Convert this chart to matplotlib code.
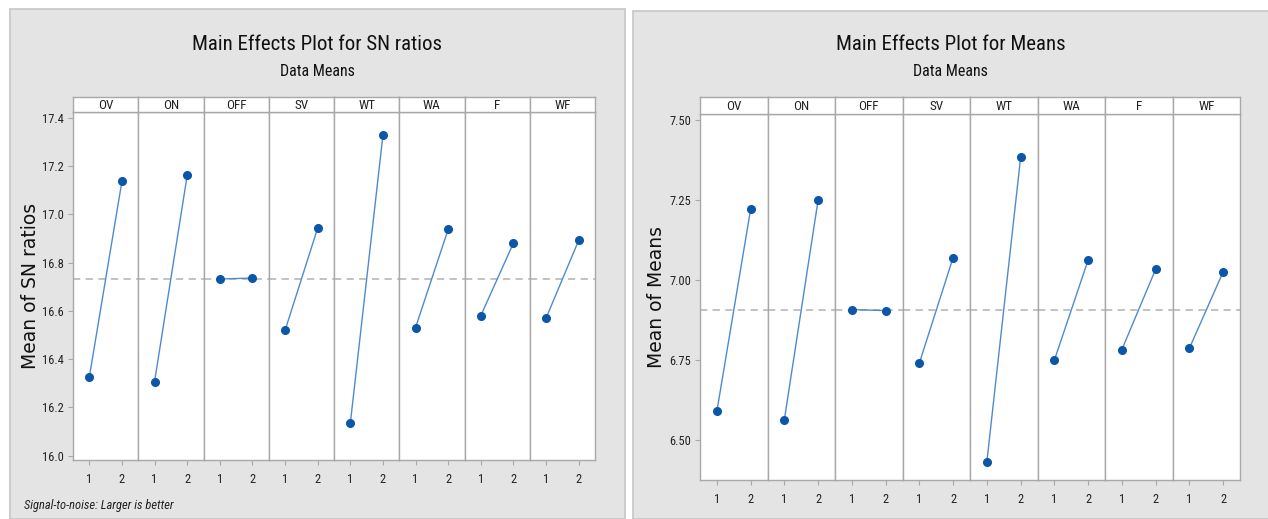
import matplotlib
matplotlib.use("Agg")
import matplotlib.pyplot as plt
from matplotlib.patches import Rectangle

plt.rcParams['font.family'] = ['Roboto Condensed', 'DejaVu Sans']

# data
factors = ["OV", "ON", "OFF", "SV", "WT", "WA", "F", "WF"]
levels = [1, 2]
sn_level1 = [16.325, 16.307, 16.732, 16.519, 16.134, 16.531, 16.580, 16.570]
sn_level2 = [17.137, 17.161, 16.736, 16.943, 17.328, 16.938, 16.881, 16.892]
sn_grand = 16.731
sn_ticks = [16.0, 16.2, 16.4, 16.6, 16.8, 17.0, 17.2, 17.4]
sn_ticklabels = ["16.0", "16.2", "16.4", "16.6", "16.8", "17.0", "17.2", "17.4"]

mean_level1 = [6.589, 6.563, 6.907, 6.740, 6.431, 6.749, 6.782, 6.786]
mean_level2 = [7.221, 7.250, 6.904, 7.070, 7.383, 7.062, 7.033, 7.025]
mean_grand = 6.907
mean_ticks = [6.50, 6.75, 7.00, 7.25, 7.50]
mean_ticklabels = ["6.50", "6.75", "7.00", "7.25", "7.50"]

W, H = 1268, 519
fig = plt.figure(figsize=(W / 100, H / 100), dpi=100)
fig.patch.set_facecolor("white")

line_col = "#4f8ad0"
dot_col = "#0a56a8"
frame_col = "#a8a8a8"


def fx(px):
    return px / W


def fy(py):
    return 1 - py / H


def draw_panel(box, left, right, strip_top, strip_bot, bottom, lvl1, lvl2, grand,
               ylim, ticks, ticklabels, ylabel, title, ylabel_x):
    bx0, by0, bx1, by1 = box
    fig.patches.append(Rectangle((fx(bx0), fy(by1)), fx(bx1 - bx0), (by1 - by0) / H,
                                 transform=fig.transFigure, facecolor="#e4e4e4",
                                 edgecolor="#c6c6c6", linewidth=1.2, zorder=-5))
    cx = fx((bx0 + min(bx1, W)) / 2)
    fig.text(cx, fy(44), title, ha="center", va="center", fontsize=15, color="#111111")
    fig.text(cx, fy(71), "Data Means", ha="center", va="center", fontsize=11.5,
             color="#111111")
    fig.text(fx(ylabel_x), fy((strip_bot + bottom) / 2), ylabel, rotation=90,
             ha="center", va="center", fontsize=13.5, family="DejaVu Sans", color="#111111")

    wid = (right - left) / len(factors)
    for i, name in enumerate(factors):
        x0 = left + i * wid
        ax = fig.add_axes([fx(x0), fy(bottom), fx(wid), (bottom - strip_bot) / H])
        ax.set_facecolor("white")
        ax.plot(levels, [lvl1[i], lvl2[i]], color=line_col, linewidth=1.0, zorder=3)
        ax.plot(levels, [lvl1[i], lvl2[i]], "o", color=dot_col, markersize=5.5, zorder=4)
        ax.axhline(grand, color="#bdbdbd", linestyle=(0, (4, 3)), linewidth=1.3, zorder=1)
        ax.set_xlim(0.5, 2.5)
        ax.set_ylim(*ylim)
        ax.set_xticks(levels)
        ax.set_xticklabels(["1", "2"])
        ax.set_yticks(ticks)
        if i == 0:
            ax.set_yticklabels(ticklabels)
        else:
            ax.tick_params(axis="y", left=False, labelleft=False)
        ax.tick_params(axis="both", direction="out", length=3.5, width=0.8, color=frame_col,
                       labelsize=9, labelcolor="#222222", pad=3)
        ax.tick_params(axis="x", pad=6)
        for s in ax.spines.values():
            s.set_color(frame_col)
            s.set_linewidth(1.0)

        sax = fig.add_axes([fx(x0), fy(strip_bot), fx(wid), (strip_bot - strip_top) / H])
        sax.set_facecolor("white")
        sax.set_xticks([])
        sax.set_yticks([])
        for s in sax.spines.values():
            s.set_color(frame_col)
            s.set_linewidth(1.0)
        sax.text(0.5, 0.45, name, ha="center", va="center", fontsize=9.5,
                 color="#222222", transform=sax.transAxes)


draw_panel((10, 9, 625, 519), 73, 595, 97, 112, 460, sn_level1, sn_level2, sn_grand,
           (15.982, 17.424), sn_ticks, sn_ticklabels, "Mean of SN ratios",
           "Main Effects Plot for SN ratios", 31)
draw_panel((633, 11, 1275, 519), 700, 1240, 97, 114, 480, mean_level1, mean_level2, mean_grand,
           (6.374, 7.519), mean_ticks, mean_ticklabels, "Mean of Means",
           "Main Effects Plot for Means", 656)

fig.text(fx(24), fy(506), "Signal-to-noise: Larger is better", ha="left", va="center",
         fontsize=9, style="italic", color="#222222")

fig.savefig("out.png", dpi=100)
